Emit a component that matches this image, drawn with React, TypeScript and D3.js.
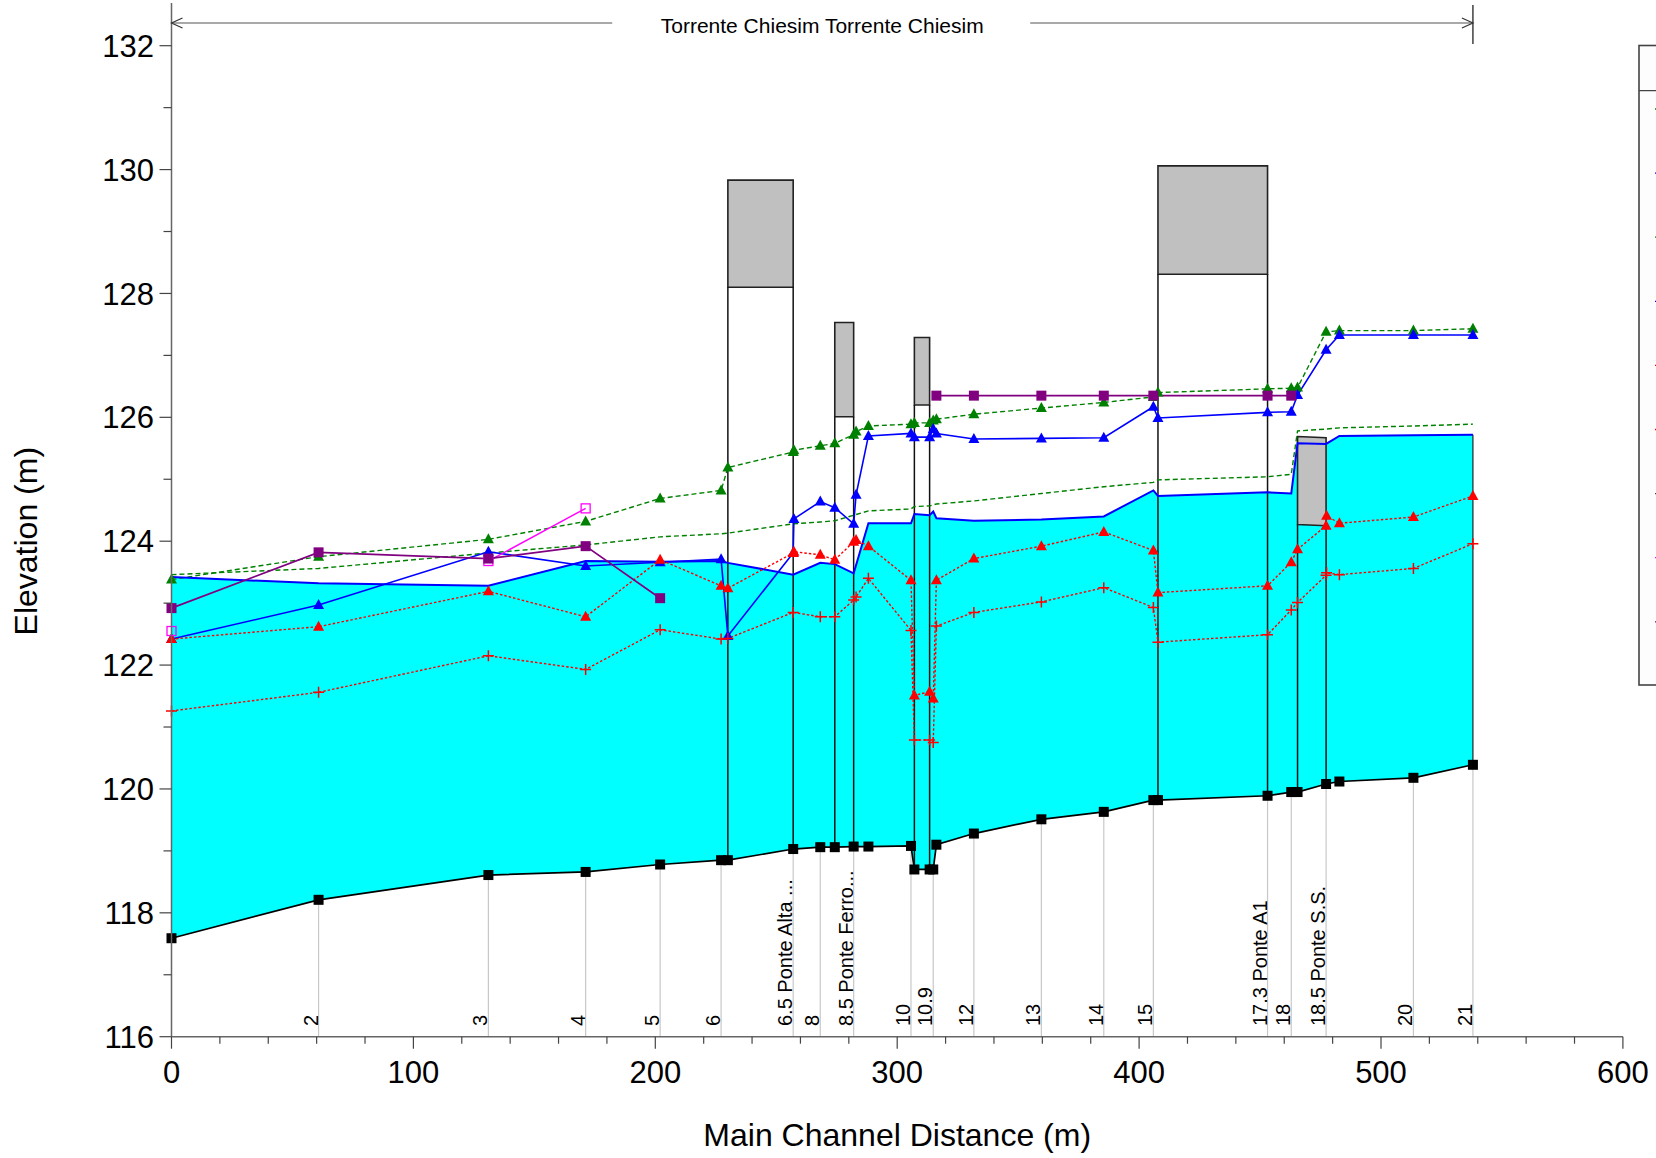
import React from 'react';
import * as d3 from 'd3';

type P = [number, number | null];

// ---------- data ----------
const xTicks = [0, 100, 200, 300, 400, 500, 600];
const yTicks = [116, 118, 120, 122, 124, 126, 128, 130, 132];

const stationNames = ['2', '3', '4', '5', '6', '6.5 Ponte Alta ...', '8', '8.5 Ponte Ferro...', '10', '10.9', '12', '13', '14', '15', '17.3 Ponte A1', '18', '18.5 Ponte S.S.', '20', '21'];
const stationDist = [60.8, 131.0, 171.2, 202.0, 227.2, 257.0, 268.2, 282.0, 305.7, 314.9, 331.7, 359.6, 385.4, 405.9, 453.1, 462.9, 477.3, 513.4, 538.0];

const ground: P[] = [[0, 117.59], [60.8, 118.21], [131.0, 118.61], [171.2, 118.66], [202.0, 118.78], [227.2, 118.85], [230.0, 118.85], [257.0, 119.03], [268.2, 119.06], [274.2, 119.06], [282.0, 119.07], [288.1, 119.07], [305.7, 119.08], [307.1, 118.70], [313.4, 118.70], [314.9, 118.70], [316.2, 119.10], [331.7, 119.28], [359.6, 119.51], [385.4, 119.63], [405.9, 119.82], [407.8, 119.82], [453.1, 119.89], [462.9, 119.95], [465.5, 119.95], [477.3, 120.08], [482.8, 120.12], [513.4, 120.18], [538.0, 120.39]];

const wsTr30: P[] = [[0, 123.42], [60.8, 123.32], [131.0, 123.28], [171.2, 123.68], [202.0, 123.67], [227.2, 123.68], [230.0, 123.65], [257.0, 123.46], [268.2, 123.65], [274.2, 123.63], [282.0, 123.48], [288.1, 124.29], [305.7, 124.29], [307.1, 124.44], [313.4, 124.42], [314.9, 124.48], [316.2, 124.37], [331.7, 124.33], [359.6, 124.35], [385.4, 124.40], [405.9, 124.82], [407.8, 124.73], [453.1, 124.79], [462.9, 124.77], [465.5, 125.58], [477.3, 125.57], [482.8, 125.70], [513.4, 125.71], [538.0, 125.72]];

const egTr30: P[] = [[0, 123.46], [60.8, 123.56], [131.0, 123.81], [171.2, 123.94], [202.0, 124.07], [227.2, 124.12], [230.0, 124.13], [257.0, 124.28], [268.2, 124.31], [274.2, 124.33], [282.0, 124.42], [288.1, 124.49], [305.7, 124.52], [307.1, 124.56], [313.4, 124.57], [316.2, 124.60], [331.7, 124.65], [359.6, 124.77], [385.4, 124.88], [405.9, 124.95], [407.8, 124.99], [453.1, 125.04], [462.9, 125.08], [465.5, 125.78], [477.3, 125.81], [482.8, 125.83], [513.4, 125.86], [538.0, 125.89]];

const egTr200: P[] = [[0, 123.38], [60.8, 123.75], [131.0, 124.03], [171.2, 124.32], [202.0, 124.69], [227.2, 124.82], [230.0, 125.19], [257.0, 125.44], [257.3, 125.47], [268.2, 125.54], [274.2, 125.58], [282.0, 125.72], [283.0, 125.77], [288.1, 125.86], [305.7, 125.89], [307.1, 125.91], [313.4, 125.91], [314.9, 125.95], [316.2, 125.97], [331.7, 126.05], [359.6, 126.15], [385.4, 126.24], [405.9, 126.33], [407.8, 126.40], [453.1, 126.46], [462.9, 126.47], [465.5, 126.48], [477.3, 127.38], [482.8, 127.40], [513.4, 127.40], [538.0, 127.43]];

const wsTr200: P[] = [[0, 122.42], [60.8, 122.97], [131.0, 123.83], [171.2, 123.60], [202.0, 123.66], [227.2, 123.71], [230.0, 122.47], [257.0, 123.81], [257.3, 124.36], [268.2, 124.64], [274.2, 124.54], [282.0, 124.28], [283.0, 124.75], [288.1, 125.70], [305.7, 125.74], [307.1, 125.68], [313.4, 125.68], [314.9, 125.81], [316.2, 125.74], [331.7, 125.65], [359.6, 125.66], [385.4, 125.67], [405.9, 126.17], [407.8, 125.99], [453.1, 126.08], [462.9, 126.09], [465.5, 126.36], [477.3, 127.09], [482.8, 127.33], [513.4, 127.33], [538.0, 127.33]];

const critTr200: P[] = [[0, 122.42], [60.8, 122.62], [131.0, 123.19], [171.2, 122.78], [202.0, 123.70], [227.2, 123.28], [230.0, 123.24], [257.0, 123.81], [257.3, 123.83], [268.2, 123.78], [274.2, 123.70], [282.0, 123.99], [283.0, 124.02], [288.1, 123.92], [305.7, 123.37], [307.1, 121.51], [313.4, 121.57], [314.9, 121.46], [316.2, 123.37], [331.7, 123.72], [359.6, 123.92], [385.4, 124.15], [405.9, 123.85], [407.8, 123.17], [453.1, 123.28], [462.9, 123.66], [465.5, 123.87], [477.3, 124.25], [477.5, 124.41], [482.8, 124.29], [513.4, 124.39], [538.0, 124.73]];

const critTr30: P[] = [[0, 121.26], [60.8, 121.56], [131.0, 122.15], [171.2, 121.93], [202.0, 122.57], [227.2, 122.42], [230.0, 122.43], [257.0, 122.85], [268.2, 122.78], [274.2, 122.78], [282.0, 123.05], [283.0, 123.10], [288.1, 123.40], [305.7, 122.56], [307.1, 120.79], [313.4, 120.79], [314.9, 120.75], [316.2, 122.63], [331.7, 122.85], [359.6, 123.02], [385.4, 123.25], [405.9, 122.93], [407.8, 122.37], [453.1, 122.49], [462.9, 122.89], [465.5, 123.01], [477.3, 123.45], [477.5, 123.49], [482.8, 123.46], [513.4, 123.56], [538.0, 123.96]];

const rightLevee: P[] = [[0, 122.92], [60.8, 123.82], [131.0, 123.72], [171.2, 123.92], [202.0, 123.08], [250, null], [316.2, 126.35], [331.7, 126.35], [359.6, 126.35], [385.4, 126.35], [405.9, 126.35], [453.1, 126.35], [462.9, 126.35]];

const leftLevee: P[] = [[0, 122.55], [60.8, null], [131.0, 123.68], [171.2, 124.53]];

// bridges
const bridgeStart = [230.0, 274.2, 307.1, 407.8, 465.5];
const bridgeEnd = [257.0, 282.0, 313.4, 453.1, 477.3];
const bridgeTopStart = [129.83, 127.53, 127.29, 130.06, 125.69];
const bridgeTopEnd = [129.83, 127.53, 127.29, 130.06, 125.67];
const bridgeLowStart = [128.10, 126.01, 126.20, 128.31, 124.27];
const bridgeLowEnd = [128.10, 126.01, 126.20, 128.31, 124.25];

const reachLength = 538.0;
const reachTitle = 'Torrente Chiesim Torrente Chiesim';

const legendColors = ['#008000', '#0000ff', '#008000', '#0000ff', '#ff0000', '#ff0000', '#404040', '#ff00ff', '#800080'];

// ---------- layout ----------
const W = 1656, H = 1158;
const FONT = '"Liberation Sans", Arial, sans-serif';

export default function App() {
  const x = d3.scaleLinear().domain([0, 600]).range([171.5, 1622.9]);
  const y = d3.scaleLinear().domain([116, 132]).range([1036.7, 45.7]);
  const gAt = d3.scaleLinear().domain(ground.map(p => p[0])).range(ground.map(p => p[1] as number));

  const line = d3.line<P>().defined(p => p[1] != null).x(p => x(p[0])).y(p => y(p[1] as number));

  const waterPath = (() => {
    const top = wsTr30.map(p => [x(p[0]), y(p[1] as number)]);
    const bot = ground.slice().reverse().map(p => [x(p[0]), y(p[1] as number)]);
    return 'M' + top.map(p => p.join(',')).join('L') + 'L' + bot.map(p => p.join(',')).join('L') + 'Z';
  })();

  const tri = (cx: number, cy: number) => `M${cx},${cy - 6}L${cx + 5.5},${cy + 4}L${cx - 5.5},${cy + 4}Z`;

  const axisBottom = y(116);
  const axisTop = y(132.69);
  const yMinor = d3.range(117, 132, 2);
  const xMinor = d3.range(0, 601, 20).filter(v => v % 100 !== 0);

  const pts = (s: P[]) => s.filter(p => p[1] != null) as [number, number][];

  const reachL = x(0), reachR = x(reachLength), reachY = 23;
  const reachC = (reachL + reachR) / 2;

  return (
    <svg width={W} height={H} style={{ position: 'absolute', left: 0, top: 0, background: '#fff' }} fontFamily={FONT}>
      <rect x={0} y={0} width={W} height={H} fill="#fff" />

      {/* water fill */}
      <path d={waterPath} fill="#00ffff" stroke="none" />

      {/* station gray lines below ground */}
      {stationDist.map((d, i) => (
        <line key={'sl' + i} x1={x(d)} x2={x(d)} y1={y(gAt(d))} y2={axisBottom} stroke="#c8c8c8" strokeWidth={1.2} />
      ))}
      <line x1={x(538)} x2={x(538)} y1={y(gAt(538))} y2={y(125.72)} stroke="#222" strokeWidth={1.2} />

      {/* station labels */}
      {stationNames.map((t, i) => (
        <text key={'st' + i} transform={`translate(${x(stationDist[i]) - 1},1026) rotate(-90)`} fontSize={20} fill="#000">{t}</text>
      ))}

      {/* bridges */}
      {bridgeStart.map((b, i) => {
        const x1 = x(b), x2 = x(bridgeEnd[i]);
        return (
          <g key={'br' + i}>
            <path d={`M${x1},${y(bridgeTopStart[i])}L${x2},${y(bridgeTopEnd[i])}L${x2},${y(bridgeLowEnd[i])}L${x1},${y(bridgeLowStart[i])}Z`} fill="#c0c0c0" stroke="#222" strokeWidth={1.6} />
            <line x1={x1} x2={x1} y1={y(bridgeLowStart[i])} y2={y(gAt(b))} stroke="#111" strokeWidth={1.5} />
            <line x1={x2} x2={x2} y1={y(bridgeLowEnd[i])} y2={y(gAt(bridgeEnd[i]))} stroke="#111" strokeWidth={1.5} />
          </g>
        );
      })}

      {/* lines */}
      <path d={line(ground) || ''} fill="none" stroke="#000" strokeWidth={1.7} />
      <path d={line(egTr30) || ''} fill="none" stroke="#008000" strokeWidth={1.4} strokeDasharray="5,3" />
      <path d={line(egTr200) || ''} fill="none" stroke="#008000" strokeWidth={1.4} strokeDasharray="5,3" />
      <path d={line(wsTr30) || ''} fill="none" stroke="#0000ff" strokeWidth={2} />
      <path d={line(wsTr200) || ''} fill="none" stroke="#0000ff" strokeWidth={1.6} />
      <path d={line(critTr30) || ''} fill="none" stroke="#ff0000" strokeWidth={1.4} strokeDasharray="2.5,2" />
      <path d={line(critTr200) || ''} fill="none" stroke="#ff0000" strokeWidth={1.4} strokeDasharray="2.5,2" />
      <path d={line(leftLevee) || ''} fill="none" stroke="#ff00ff" strokeWidth={1.4} />
      <path d={line(rightLevee) || ''} fill="none" stroke="#800080" strokeWidth={1.7} />

      {/* markers */}
      {pts(ground).map((p, i) => (
        <rect key={'g' + i} x={x(p[0]) - 5} y={y(p[1]) - 5} width={10} height={10} fill="#000" />
      ))}
      {pts(egTr200).map((p, i) => <path key={'e2' + i} d={tri(x(p[0]), y(p[1]))} fill="#008000" />)}
      {pts(wsTr200).map((p, i) => <path key={'w2' + i} d={tri(x(p[0]), y(p[1]))} fill="#0000ff" />)}
      {pts(critTr200).map((p, i) => <path key={'c2' + i} d={tri(x(p[0]), y(p[1]))} fill="#ff0000" />)}
      {pts(critTr30).map((p, i) => (
        <path key={'c3' + i} d={`M${x(p[0]) - 5.5},${y(p[1])}h11M${x(p[0])},${y(p[1]) - 5.5}v11`} stroke="#ff0000" strokeWidth={1.5} />
      ))}
      {pts(leftLevee).map((p, i) => (
        <rect key={'ll' + i} x={x(p[0]) - 4.5} y={y(p[1]) - 4.5} width={9} height={9} fill="none" stroke="#ff00ff" strokeWidth={1.3} />
      ))}
      {pts(rightLevee).map((p, i) => (
        <rect key={'rl' + i} x={x(p[0]) - 5} y={y(p[1]) - 5} width={10} height={10} fill="#800080" />
      ))}

      {/* axes */}
      <line x1={x(0)} x2={x(0)} y1={axisTop} y2={axisBottom} stroke="#666" strokeWidth={1.5} />
      <line x1={x(0)} x2={x(600)} y1={axisBottom} y2={axisBottom} stroke="#666" strokeWidth={1.5} />
      {yTicks.map(v => (
        <g key={'yt' + v}>
          <line x1={x(0) - 12} x2={x(0)} y1={y(v)} y2={y(v)} stroke="#444" strokeWidth={1.2} />
          <text x={154} y={y(v)} dy="0.36em" textAnchor="end" fontSize={31} fill="#000">{v}</text>
        </g>
      ))}
      {yMinor.map(v => (
        <line key={'ym' + v} x1={x(0) - 8} x2={x(0)} y1={y(v)} y2={y(v)} stroke="#444" strokeWidth={1.2} />
      ))}
      {xTicks.map(v => (
        <g key={'xt' + v}>
          <line x1={x(v)} x2={x(v)} y1={axisBottom} y2={axisBottom + 12} stroke="#444" strokeWidth={1.2} />
          <text x={x(v)} y={1083} textAnchor="middle" fontSize={31} fill="#000">{v}</text>
        </g>
      ))}
      {xMinor.map(v => (
        <line key={'xm' + v} x1={x(v)} x2={x(v)} y1={axisBottom} y2={axisBottom + 7} stroke="#444" strokeWidth={1.2} />
      ))}

      <text x={(x(0) + x(600)) / 2} y={1146} textAnchor="middle" fontSize={32} fill="#000">Main Channel Distance (m)</text>
      <text transform={`translate(37,${(y(116) + y(132)) / 2}) rotate(-90)`} textAnchor="middle" fontSize={32} fill="#000">Elevation (m)</text>

      {/* reach marker */}
      <line x1={reachL} x2={reachC - 210} y1={reachY} y2={reachY} stroke="#555" strokeWidth={1.2} />
      <line x1={reachC + 208} x2={reachR} y1={reachY} y2={reachY} stroke="#555" strokeWidth={1.2} />
      <path d={`M${reachL + 11},${reachY - 5}L${reachL},${reachY}L${reachL + 11},${reachY + 5}`} fill="none" stroke="#333" strokeWidth={1.2} />
      <path d={`M${reachR - 11},${reachY - 5}L${reachR},${reachY}L${reachR - 11},${reachY + 5}`} fill="none" stroke="#333" strokeWidth={1.2} />
      <line x1={reachR} x2={reachR} y1={5} y2={44} stroke="#333" strokeWidth={1.4} />
      <text x={reachC} y={33} textAnchor="middle" fontSize={21} fill="#000">{reachTitle}</text>

      {/* legend box (clipped at right edge) */}
      <rect x={1639} y={45.5} width={200} height={639.5} fill="#fdfdfd" stroke="#444" strokeWidth={1.6} />
      <line x1={1639} x2={1839} y1={90.6} y2={90.6} stroke="#444" strokeWidth={1.2} />
      {legendColors.map((c, i) => (
        <line key={'lg' + i} x1={1655} x2={1700} y1={109 + i * 64.1} y2={109 + i * 64.1} stroke={c} strokeWidth={1.3} />
      ))}
    </svg>
  );
}
